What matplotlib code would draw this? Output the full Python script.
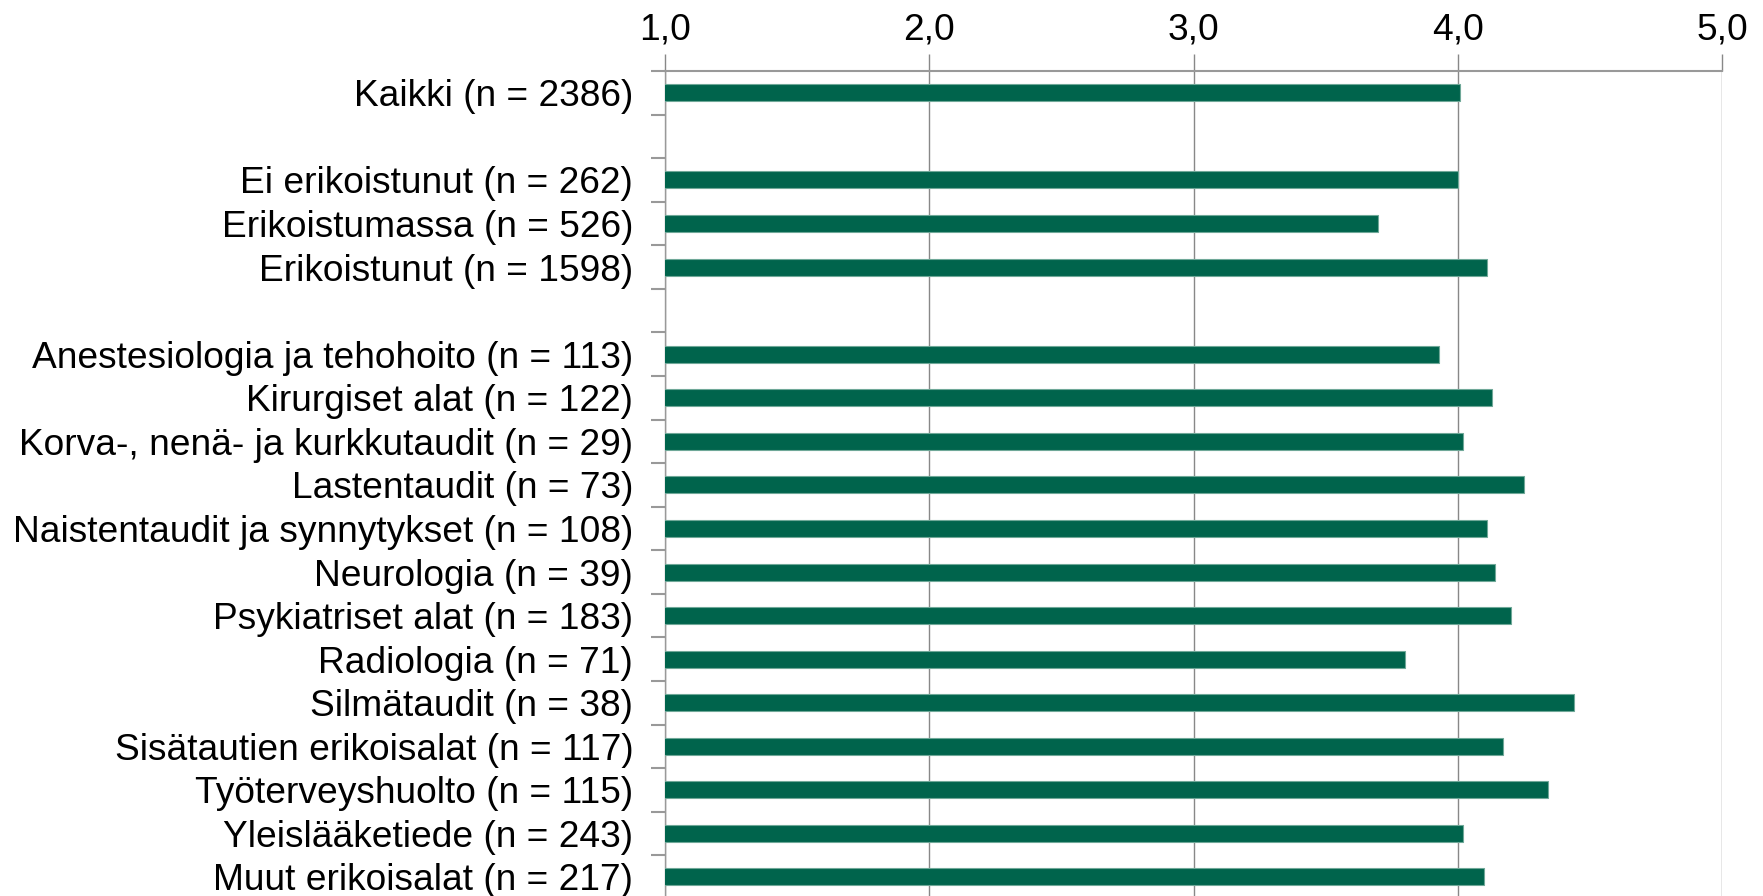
import numpy as np
import matplotlib
matplotlib.use("Agg")
import matplotlib.pyplot as plt

plt.rcParams['font.family'] = ['Liberation Sans', 'DejaVu Sans']

categories = [
    "Kaikki (n = 2386)",
    "",
    "Ei erikoistunut (n = 262)",
    "Erikoistumassa (n = 526)",
    "Erikoistunut (n = 1598)",
    "",
    "Anestesiologia ja tehohoito (n = 113)",
    "Kirurgiset alat (n = 122)",
    "Korva-, nenä- ja kurkkutaudit (n = 29)",
    "Lastentaudit (n = 73)",
    "Naistentaudit ja synnytykset (n = 108)",
    "Neurologia (n = 39)",
    "Psykiatriset alat (n = 183)",
    "Radiologia (n = 71)",
    "Silmätaudit (n = 38)",
    "Sisätautien erikoisalat (n = 117)",
    "Työterveyshuolto (n = 115)",
    "Yleislääketiede (n = 243)",
    "Muut erikoisalat (n = 217)",
]
values = [4.01, np.nan, 4.00, 3.70, 4.11, np.nan,
          3.93, 4.13, 4.02, 4.25, 4.11, 4.14, 4.20, 3.80, 4.44, 4.17, 4.34, 4.02, 4.10]
xticks = [1.0, 2.0, 3.0, 4.0, 5.0]
xticklabels = ["1,0", "2,0", "3,0", "4,0", "5,0"]

fig = plt.figure(figsize=(17.63, 8.96), dpi=100)
ax = fig.add_axes([0.3773, -0.0031, 0.5994, 0.9239])

y = np.arange(len(categories))
ax.barh(y, values, height=0.39, color='#00644C', edgecolor='#6FA898', linewidth=0.8, zorder=3)

ax.set_xlim(1.0, 5.0)
ax.set_ylim(len(categories) - 0.5, -0.5)
ax.xaxis.tick_top()
ax.set_xticks(xticks)
ax.set_xticklabels(xticklabels)
ax.tick_params(axis='x', which='major', direction='out', length=12, width=1, color='#888888',
               labelsize=26.7, pad=5, labelcolor='black')
ax.grid(axis='x', color='#888888', linewidth=1, zorder=0)

ax.set_yticks(y)
ax.set_yticklabels(categories)
ax.set_yticks(np.arange(-0.5, len(categories) + 0.5, 1), minor=True)
ax.tick_params(axis='y', which='major', length=0, labelsize=26.7, pad=23, labelcolor='black')
ax.tick_params(axis='y', which='minor', length=10, width=1.5, color='#999999', direction='out')

for s in ['right', 'bottom']:
    ax.spines[s].set_visible(False)
ax.spines['top'].set_color('#999999')
ax.spines['top'].set_linewidth(1.5)
ax.spines['left'].set_color('#999999')
ax.spines['left'].set_linewidth(1)

fig.savefig("out.png", dpi=100)
